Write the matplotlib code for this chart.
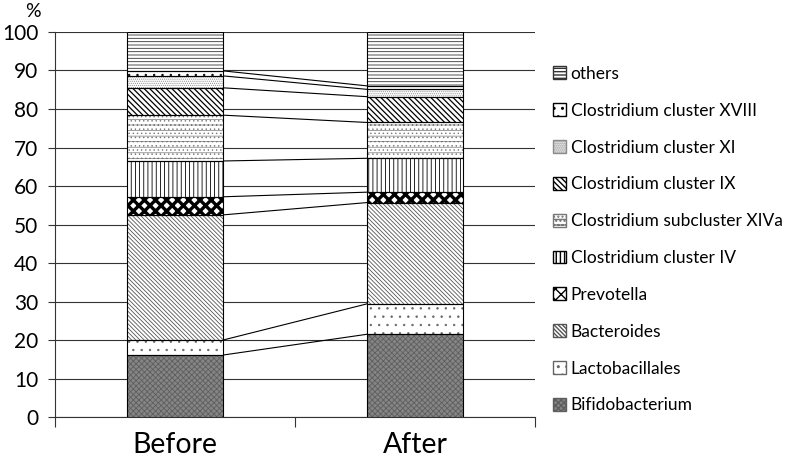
import numpy as np
import matplotlib
matplotlib.use("Agg")
import matplotlib.pyplot as plt
from matplotlib.patches import Patch

# data (percent composition, bottom to top)
groups = ["Before", "After"]
taxa = ["Bifidobacterium", "Lactobacillales", "Bacteroides", "Prevotella",
        "Clostridium cluster IV", "Clostridium subcluster XIVa",
        "Clostridium cluster IX", "Clostridium cluster XI",
        "Clostridium cluster XVIII", "others"]
before = [16.1, 3.9, 32.5, 4.7, 9.3, 11.9, 7.1, 3.1, 1.3, 10.1]
after = [21.5, 7.9, 26.3, 2.7, 8.8, 9.3, 6.7, 1.9, 0.9, 14.0]

# fill styles: (face, hatch, hatch colour, hatch width)
styles = [
    ("#858585", "xxxxxx", "#5e5e5e", 0.6),
    ("white", "..", "#666666", 0.5),
    ("white", "\\\\\\\\\\\\\\\\", "#555555", 0.6),
    ("white", "xxx", "black", 2.4),
    ("white", "||||", "black", 0.6),
    ("white", "---....", "#777777", 0.5),
    ("white", "\\\\\\\\\\\\", "black", 0.9),
    ("white", "........", "#8a8a8a", 0.5),
    ("white", "..", "black", 0.5),
    ("white", "-----", "#333333", 0.6),
]

plt.rcParams['font.family'] = ['Lato', 'DejaVu Sans']

fig = plt.figure(figsize=(7.95, 4.67), dpi=100)
ax = fig.add_axes([0.0692, 0.107, 0.604, 0.8245])

x = np.arange(len(groups))
w = 0.4
data = np.array([before, after])
bottoms = np.zeros(len(groups))
for i, name in enumerate(taxa):
    face, hatch, hc, hw = styles[i]
    vals = data[:, i]
    with plt.rc_context({'hatch.linewidth': hw}):
        ax.bar(x, vals, w, bottom=bottoms, color=face, hatch=hatch,
               edgecolor=hc, linewidth=0, zorder=3)
    ax.bar(x, vals, w, bottom=bottoms, facecolor="none",
           edgecolor="black", linewidth=0.8, zorder=4)
    bottoms = bottoms + vals
    # series line between the bars
    if i < len(taxa) - 1:
        ax.plot([x[0] + w / 2, x[1] - w / 2], [bottoms[0], bottoms[1]],
                color="black", linewidth=0.8, zorder=2)

ax.set_xlim(-0.5, 1.5)
ax.set_ylim(0, 100)
ax.set_yticks(np.arange(0, 101, 10))
ax.grid(axis='y', color='#333333', linewidth=0.8, zorder=0)
ax.tick_params(axis='y', labelsize=15, length=5, width=0.8, color='#333333',
               pad=7)
ax.set_xticks(x)
ax.set_xticklabels(groups, fontsize=20.5)
ax.set_xticks([-0.5, 0.5, 1.5], minor=True)
ax.tick_params(axis='x', which='major', length=0, pad=11)
ax.tick_params(axis='x', which='minor', length=7, width=0.8, color='#333333')
for s in ['top', 'right']:
    ax.spines[s].set_visible(False)
for s in ['left', 'bottom']:
    ax.spines[s].set_color('#333333')
    ax.spines[s].set_linewidth(0.8)

ax.text(-0.045, 1.03, "%", transform=ax.transAxes, fontsize=14,
        ha='center', va='bottom')

handles = []
for i in range(len(taxa) - 1, -1, -1):
    face, hatch, hc, hw = styles[i]
    with plt.rc_context({'hatch.linewidth': hw}):
        handles.append(Patch(facecolor=face, hatch=hatch, edgecolor=hc,
                             label=taxa[i]))
leg = ax.legend(handles=handles, loc='upper left', bbox_to_anchor=(1.023, 0.93),
                frameon=False, fontsize=12.5, handlelength=0.75, handleheight=0.75,
                handletextpad=0.25, labelspacing=1.2, borderaxespad=0)

fig.savefig("out.png", dpi=100)
